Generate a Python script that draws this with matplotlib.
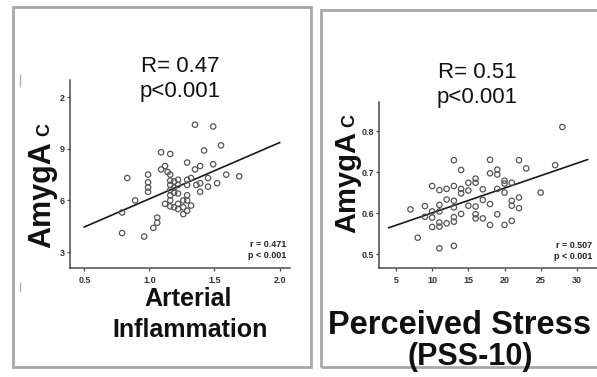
import matplotlib
matplotlib.use("Agg")
import matplotlib.pyplot as plt
from matplotlib.patches import Rectangle
from matplotlib.lines import Line2D

# ---- data: arterial inflammation panel ----
art_x = [1.35, 1.49, 1.55, 1.42, 1.09, 1.16, 1.29, 1.49, 1.12, 1.39,
         1.09, 1.35, 1.14, 0.99, 1.16, 1.59, 1.69, 0.83, 1.45, 1.32,
         1.29, 1.22, 1.16, 1.19, 0.99, 1.52, 1.39, 1.36, 1.29, 1.16,
         1.22, 1.45, 0.99, 1.19, 1.16, 0.99, 1.39, 1.19, 1.22, 1.16,
         1.29, 1.26, 1.29, 1.16, 0.89, 1.12, 1.22, 1.32, 1.16, 1.19,
         1.26, 1.22, 1.29, 0.79, 1.26, 1.06, 1.06, 1.03, 0.79, 0.96]
art_y = [10.4, 10.3, 9.2, 8.9, 8.8, 8.7, 8.2, 8.1, 8.0, 8.0,
         7.8, 7.8, 7.65, 7.5, 7.5, 7.5, 7.4, 7.3, 7.3, 7.3,
         7.2, 7.2, 7.15, 7.1, 7.05, 7.0, 7.0, 6.9, 6.9, 6.9,
         6.9, 6.8, 6.75, 6.75, 6.6, 6.5, 6.5, 6.45, 6.4, 6.3,
         6.3, 6.0, 6.0, 6.0, 6.0, 5.8, 5.8, 5.7, 5.65, 5.6,
         5.6, 5.5, 5.4, 5.3, 5.2, 5.0, 4.7, 4.4, 4.1, 3.9]
art_fit = (2.82, 3.27)          # intercept, slope
art_fit_range = (0.5, 2.0)
art_xticks = [0.5, 1.0, 1.5, 2.0]
art_xticklabels = ["0.5", "1.0", "1.5", "2.0"]
art_yticks = [3, 6, 9, 12]
art_yticklabels = ["3", "6", "9", "2"]
art_stats = ("R= 0.47", "p<0.001")
art_inset = "r = 0.471\np < 0.001"

# ---- data: perceived stress panel ----
pss_x = [28, 13, 18, 22, 23, 27, 14, 19, 19, 18,
         10, 11, 12, 13, 14, 14, 15, 15, 16, 16,
         17, 19, 20, 20, 21, 20, 12, 13, 17, 18,
         21, 21, 22, 22, 25, 7, 9, 11, 10, 11,
         13, 15, 16, 9, 10, 14, 16, 16, 17, 19,
         10, 11, 11, 12, 13, 13, 18, 20, 21, 8,
         11, 13]
pss_y = [0.810, 0.729, 0.730, 0.729, 0.709, 0.717, 0.705, 0.706, 0.694, 0.697,
         0.666, 0.656, 0.659, 0.666, 0.659, 0.648, 0.655, 0.674, 0.684, 0.674,
         0.658, 0.659, 0.679, 0.672, 0.674, 0.650, 0.633, 0.630, 0.632, 0.622,
         0.630, 0.618, 0.638, 0.612, 0.650, 0.609, 0.617, 0.620, 0.604, 0.604,
         0.614, 0.618, 0.616, 0.591, 0.589, 0.598, 0.597, 0.587, 0.587, 0.597,
         0.566, 0.577, 0.567, 0.575, 0.579, 0.590, 0.571, 0.571, 0.581, 0.540,
         0.514, 0.520]
pss_fit = (0.540, 0.00605)
pss_fit_range = (4.0, 31.5)
pss_xticks = [5, 10, 15, 20, 25, 30]
pss_xticklabels = ["5", "10", "15", "20", "25", "30"]
pss_yticks = [0.5, 0.6, 0.7, 0.8]
pss_yticklabels = ["0.5", "0.6", "0.7", "0.8"]
pss_stats = ("R= 0.51", "p<0.001")
pss_inset = "r = 0.507\np < 0.001"

FONT = "Liberation Sans"
W, H = 597, 377

fig = plt.figure(figsize=(W / 100, H / 100), dpi=100)
fig.patch.set_facecolor("white")


def fx(x):
    return x / W


def fy(y):
    return 1 - y / H


def add_axes(l, t, r, b):
    return fig.add_axes([fx(l), fy(b), (r - l) / W, (b - t) / H])


def style_axes(ax, xticks, xtl, yticks, ytl):
    for s in ("top", "right"):
        ax.spines[s].set_visible(False)
    for s in ("left", "bottom"):
        ax.spines[s].set_color("#4a4a4a")
        ax.spines[s].set_linewidth(1.1)
    ax.set_xticks(xticks)
    ax.set_xticklabels(xtl)
    ax.set_yticks(yticks)
    ax.set_yticklabels(ytl)
    ax.tick_params(direction="out", length=2.5, width=0.9, color="#4a4a4a",
                   labelsize=6.5, labelcolor="#333333")
    ax.tick_params(axis="y", pad=1.2)
    ax.tick_params(axis="x", pad=3)
    for lab in ax.get_xticklabels() + ax.get_yticklabels():
        lab.set_fontweight("bold")
        lab.set_family(FONT)
    ax.patch.set_alpha(0)


def scatter_panel(ax, xs, ys, fit, rng, inset, inset_x):
    ax.scatter(xs, ys, s=15, facecolors="none", edgecolors="#555555",
               linewidths=0.9, zorder=3)
    x0, x1 = rng
    ax.plot([x0, x1], [fit[0] + fit[1] * x0, fit[0] + fit[1] * x1],
            color="#1a1a1a", lw=1.2, zorder=2)
    ax.text(inset_x, 0.045, inset, transform=ax.transAxes, ha="right",
            va="bottom", fontsize=6.5, fontweight="bold", family=FONT,
            color="#222222", linespacing=1.2)


def ylabel(x, y_base, y_sub, size):
    fig.text(fx(x), fy(y_base), "AmygA", rotation=90, rotation_mode="anchor",
             ha="left", va="baseline", fontsize=size, fontweight="bold",
             family=FONT, color="#111111")
    fig.text(fx(x - 1), fy(y_sub), "C", rotation=90, rotation_mode="anchor",
             ha="left", va="baseline", fontsize=13, fontweight="bold",
             family=FONT, color="#111111")


# ---- panel frames ----
frame_col = "#a8a8a8"
fig.add_artist(Rectangle((fx(13), fy(367)), (311 - 13) / W, (367 - 7) / H,
                         transform=fig.transFigure, fill=False,
                         edgecolor=frame_col, lw=2.0))
fig.add_artist(Rectangle((fx(321), fy(367)), (605 - 321) / W, (367 - 10) / H,
                         transform=fig.transFigure, fill=False,
                         edgecolor=frame_col, lw=2.0, clip_on=False))
for y0, y1 in ((75, 86), (283, 291)):
    fig.add_artist(Line2D([fx(20), fx(20)], [fy(y0), fy(y1)],
                          transform=fig.transFigure, color="#b0b0b0", lw=1.0))

# ---- left panel ----
ax1 = add_axes(70, 80, 290, 268)
ax1.set_xlim(0.39, 2.08)
ax1.set_ylim(2.07, 13.0)
scatter_panel(ax1, art_x, art_y, art_fit, art_fit_range, art_inset, 0.985)
style_axes(ax1, art_xticks, art_xticklabels, art_yticks, art_yticklabels)

fig.text(fx(180), fy(67), art_stats[0], ha="center", va="center",
         fontsize=16, family=FONT, color="#111111")
fig.text(fx(180), fy(91), art_stats[1], ha="center", va="center",
         fontsize=16, family=FONT, color="#111111")
ylabel(50, 248, 136, 22)
fig.text(fx(188), fy(299), "Arterial", ha="center", va="center",
         fontsize=18, fontweight="bold", family=FONT, color="#111111")
fig.text(fx(190), fy(330), "Inflammation", ha="center", va="center",
         fontsize=18, fontweight="bold", family=FONT, color="#111111")

# ---- right panel ----
ax2 = add_axes(379, 102, 600, 268)
ax2.set_xlim(2.65, 33.2)
ax2.set_ylim(0.466, 0.871)
scatter_panel(ax2, pss_x, pss_y, pss_fit, pss_fit_range, pss_inset, 0.965)
style_axes(ax2, pss_xticks, pss_xticklabels, pss_yticks, pss_yticklabels)

fig.text(fx(477), fy(72), pss_stats[0], ha="center", va="center",
         fontsize=16, family=FONT, color="#111111")
fig.text(fx(477), fy(97), pss_stats[1], ha="center", va="center",
         fontsize=16, family=FONT, color="#111111")
ylabel(355, 233, 127, 21)
fig.text(fx(328), fy(326), "Perceived Stress", ha="left", va="center",
         fontsize=23.5, fontweight="bold", family=FONT, color="#111111")
fig.text(fx(470), fy(357), "(PSS-10)", ha="center", va="center",
         fontsize=22, fontweight="bold", family=FONT, color="#111111")

fig.savefig("out.png", dpi=100, facecolor="white")
